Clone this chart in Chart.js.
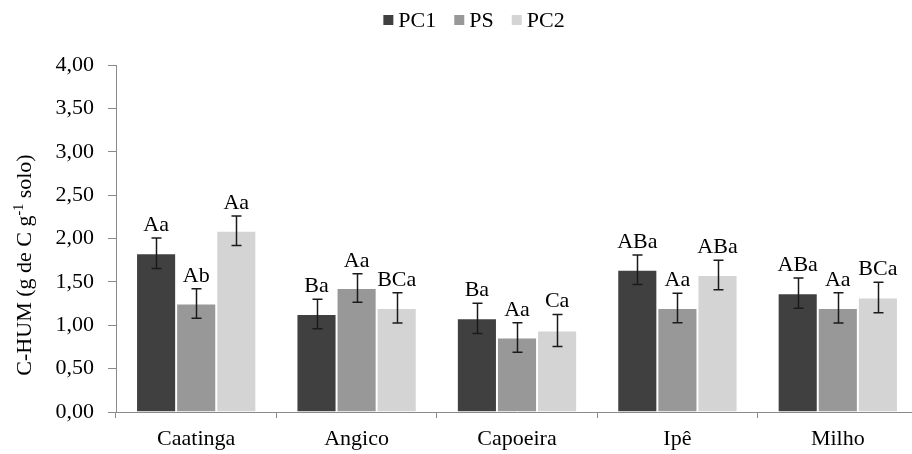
<!DOCTYPE html>
<html>
<head>
<meta charset="utf-8">
<script src="https://cdn.jsdelivr.net/npm/chart.js@4"></script>
<style>
  html, body { margin: 0; padding: 0; background: #fff; overflow: hidden; }
  #wrap { width: 930px; height: 454px; }
</style>
</head>
<body>
<div id="wrap"><canvas id="chart" width="930" height="454"></canvas></div>
<script>
// Data
const categories = ['Caatinga', 'Angico', 'Capoeira', 'Ipê', 'Milho'];
const seriesNames = ['PC1', 'PS', 'PC2'];

const pc1Values = [1.83, 1.13, 1.08, 1.64, 1.37];
const psValues  = [1.25, 1.43, 0.86, 1.20, 1.20];
const pc2Values = [2.09, 1.20, 0.94, 1.58, 1.32];

const pc1Errors = [0.175, 0.17, 0.175, 0.17, 0.175];
const psErrors  = [0.17, 0.165, 0.17, 0.17, 0.175];
const pc2Errors = [0.17, 0.175, 0.185, 0.17, 0.175];

const pc1Letters = ['Aa', 'Ba', 'Ba', 'ABa', 'ABa'];
const psLetters  = ['Ab', 'Aa', 'Aa', 'Aa', 'Aa'];
const pc2Letters = ['Aa', 'BCa', 'Ca', 'ABa', 'BCa'];

const yTicks = [0, 0.5, 1, 1.5, 2, 2.5, 3, 3.5, 4];

const FONT = '"Liberation Serif", "Times New Roman", serif';
const colors = ['#404040', '#989898', '#d4d4d4'];

// Error bars + significance letters
const errorBarPlugin = {
  id: 'errorBars',
  afterDatasetsDraw(chart) {
    const ctx = chart.ctx;
    const yScale = chart.scales.y;
    ctx.save();
    chart.data.datasets.forEach((ds, di) => {
      const meta = chart.getDatasetMeta(di);
      meta.data.forEach((bar, i) => {
        const v = ds.data[i];
        const e = ds.errors[i];
        const yTop = yScale.getPixelForValue(v + e);
        const yBot = yScale.getPixelForValue(v - e);
        const x = Math.round(bar.x) + 0.5;
        ctx.strokeStyle = '#1a1a1a';
        ctx.lineWidth = 1.5;
        ctx.beginPath();
        ctx.moveTo(x, yTop);
        ctx.lineTo(x, yBot);
        ctx.moveTo(x - 5, yTop);
        ctx.lineTo(x + 5, yTop);
        ctx.moveTo(x - 5, yBot);
        ctx.lineTo(x + 5, yBot);
        ctx.stroke();

        ctx.fillStyle = '#000';
        ctx.font = '22px ' + FONT;
        ctx.textAlign = 'center';
        ctx.textBaseline = 'alphabetic';
        ctx.fillText(ds.letters[i], bar.x, yTop - 7);
      });
    });
    ctx.restore();
  }
};

// Legend and y axis title (with superscript)
const decorPlugin = {
  id: 'decor',
  afterDraw(chart) {
    const ctx = chart.ctx;
    ctx.save();
    ctx.font = '22px ' + FONT;
    ctx.textBaseline = 'middle';
    ctx.textAlign = 'left';

    // legend
    const box = 10, gapText = 5, gapItem = 18;
    const widths = chart.data.datasets.map(ds => box + gapText + ctx.measureText(ds.label).width);
    const total = widths.reduce((a, b) => a + b, 0) + gapItem * (widths.length - 1);
    let x = 474 - total / 2;
    const cy = 20;
    chart.data.datasets.forEach((ds, i) => {
      ctx.fillStyle = ds.backgroundColor;
      ctx.fillRect(x, cy - box / 2, box, box);
      ctx.fillStyle = '#000';
      ctx.fillText(ds.label, x + box + gapText, cy + 1);
      x += widths[i] + gapItem;
    });

    // y title
    const parts = [
      { t: 'C-HUM (g de C g', size: 22, dy: 0 },
      { t: '-1', size: 14, dy: -8 },
      { t: ' solo)', size: 22, dy: 0 }
    ];
    let w = 0;
    parts.forEach(p => { ctx.font = p.size + 'px ' + FONT; p.w = ctx.measureText(p.t).width; w += p.w; });
    ctx.translate(24, 265);
    ctx.rotate(-Math.PI / 2);
    ctx.textBaseline = 'alphabetic';
    let tx = -w / 2;
    parts.forEach(p => {
      ctx.font = p.size + 'px ' + FONT;
      ctx.fillText(p.t, tx, 7 + p.dy);
      tx += p.w;
    });
    ctx.restore();
  }
};

const valueSets = [pc1Values, psValues, pc2Values];
const errorSets = [pc1Errors, psErrors, pc2Errors];
const letterSets = [pc1Letters, psLetters, pc2Letters];

new Chart(document.getElementById('chart'), {
  type: 'bar',
  data: {
    labels: categories,
    datasets: seriesNames.map((name, i) => ({
      label: name,
      data: valueSets[i],
      errors: errorSets[i],
      letters: letterSets[i],
      backgroundColor: colors[i],
      borderColor: '#ffffff',
      borderWidth: 1,
      categoryPercentage: 0.75,
      barPercentage: 1.0
    }))
  },
  options: {
    responsive: false,
    animation: false,
    layout: { padding: { top: 65, right: 12, left: 0, bottom: 0 } },
    plugins: {
      legend: { display: false },
      tooltip: { enabled: false }
    },
    scales: {
      x: {
        afterFit(scale) { scale.height = 42; },
        border: { color: '#8a8a8a', width: 1 },
        grid: { display: true, drawOnChartArea: false, drawTicks: true, tickLength: 6, color: '#8a8a8a', offset: true },
        ticks: { color: '#000', font: { family: FONT, size: 22 }, padding: 8 }
      },
      y: {
        min: 0,
        max: 4,
        afterFit(scale) { scale.width = 116; },
        afterBuildTicks(scale) { scale.ticks = yTicks.map(v => ({ value: v })); },
        border: { color: '#8a8a8a', width: 1 },
        grid: { display: true, drawOnChartArea: false, drawTicks: true, tickLength: 8, color: '#8a8a8a' },
        ticks: {
          color: '#000',
          font: { family: FONT, size: 22 },
          padding: 14,
          callback: v => v.toFixed(2).replace('.', ',')
        }
      }
    }
  },
  plugins: [errorBarPlugin, decorPlugin]
});
</script>
</body>
</html>
